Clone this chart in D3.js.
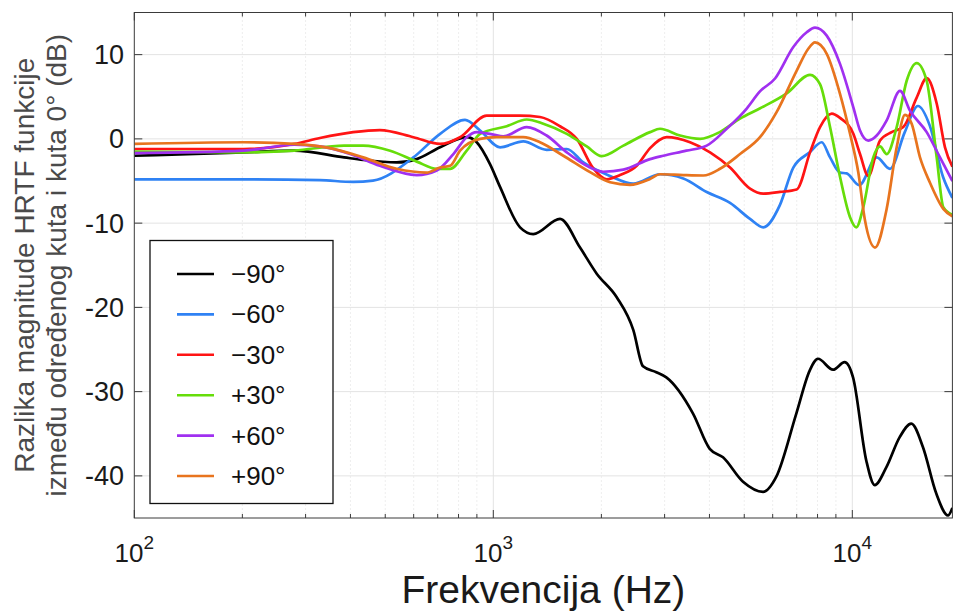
<!DOCTYPE html>
<html><head><meta charset="utf-8">
<script src="https://cdn.jsdelivr.net/npm/d3@7/dist/d3.min.js"></script>
<style>
body{margin:0;background:#fff}
svg{display:block}
text{font-family:"Liberation Sans",Arial,Helvetica,sans-serif}
</style>
</head><body>
<svg id="chart" width="953" height="613"></svg>
<script>
// ---------- data ----------
const xTicks = [100, 1000, 10000];
const xTickExp = ["2", "3", "4"];
const yTicks = [-40, -30, -20, -10, 0, 10];
const seriesNames = ["\u221290\u00b0", "\u221260\u00b0", "\u221230\u00b0", "+30\u00b0", "+60\u00b0", "+90\u00b0"];
const seriesColors = ["#000000", "#2f82f4", "#ff1414", "#66dd0a", "#a030f0", "#e8741e"];

const m90 = [[100,-2.0],[202,-1.6],[279,-1.4],[384,-2.2],[434,-2.5],[538,-2.8],[612,-2.4],[711,-1.0],[843,0.2],[899,-0.4],[979,-3.0],[1044,-5.7],[1187,-10.5],[1292,-11.3],[1534,-9.5],[1744,-12.9],[1941,-16.0],[2207,-18.8],[2455,-22.7],[2612,-27.0],[2845,-27.7],[3033,-28.3],[3600,-32.6],[4007,-36.8],[4363,-37.8],[4961,-40.7],[5640,-41.9],[6142,-40.1],[6982,-32.6],[7608,-27.5],[8024,-26.1],[8836,-27.4],[9523,-26.5],[10046,-28.3],[10939,-38.2],[11544,-41.1],[12434,-39.0],[13550,-35.4],[14596,-33.8],[15733,-36.6],[17135,-42.1],[18471,-44.7],[19000,-43.8]];
const m60 = [[100,-4.8],[202,-4.8],[329,-4.9],[407,-5.1],[462,-4.95],[599,-2.2],[711,0.6],[834,2.25],[919,1.0],[1044,-1.0],[1212,-0.3],[1408,-1.3],[1602,-1.2],[1781,-2.8],[2114,-4.4],[2455,-5.3],[2913,-4.2],[3382,-4.7],[3930,-6.3],[4564,-7.6],[5188,-9.5],[5650,-10.5],[6278,-7.9],[6849,-3.4],[7608,-1.6],[8218,-0.4],[8668,-2.2],[9240,-4.0],[9647,-4.1],[10450,-5.5],[11693,-2.2],[12733,-3.55],[14000,0.8],[15238,3.9],[16425,1.6],[17886,-4.5],[19000,-7.0]];
const m30 = [[100,-1.2],[202,-1.2],[279,-0.6],[329,0.1],[407,0.8],[483,1.05],[599,0.2],[711,-0.6],[808,0.2],[958,2.75],[1187,2.75],[1349,2.6],[1534,1.5],[1708,0.0],[1899,-3.5],[2070,-4.8],[2254,-4.3],[2509,-3.2],[2733,-1.1],[3041,0.2],[3531,-0.4],[4015,-1.6],[4564,-3.4],[5188,-5.9],[5650,-6.5],[6290,-6.3],[7000,-6.0],[7623,-1.6],[8128,1.4],[8762,3.0],[9240,2.5],[10065,0.6],[10505,-1.8],[11080,-4.4],[11943,-0.2],[12871,0.8],[13868,1.4],[15112,4.9],[16111,7.2],[17178,4.2],[18118,-1.0],[19000,-3.3]];
const p30 = [[100,-1.5],[202,-1.6],[279,-1.4],[384,-0.8],[434,-0.8],[516,-1.4],[612,-2.7],[696,-3.55],[758,-3.55],[843,-1.4],[919,0.6],[1090,1.5],[1239,2.3],[1378,1.8],[1602,0.6],[1821,-0.9],[2004,-2.05],[2303,-0.8],[2733,0.8],[2913,1.2],[3312,0.4],[3765,0.0],[4271,0.8],[4867,2.4],[5521,3.6],[6565,5.4],[7623,7.6],[8128,6.5],[8668,1.4],[9240,-4.5],[9854,-9.3],[10259,-10.5],[10730,-8.1],[11440,-2.2],[11943,-0.9],[12466,-1.8],[13292,1.4],[14171,6.9],[15112,9.0],[16111,6.9],[17178,-2.2],[17923,-8.1],[19000,-9.0]];
const p60 = [[100,-1.7],[202,-1.4],[279,-0.7],[329,-0.9],[399,-1.8],[483,-3.2],[612,-4.3],[696,-3.75],[774,-1.8],[843,0.2],[899,0.8],[1000,0.5],[1066,0.3],[1239,1.4],[1408,0.4],[1602,-1.6],[1821,-3.2],[2025,-3.9],[2303,-3.65],[2733,-2.4],[2975,-2.0],[3448,-1.4],[3930,-0.8],[4468,1.2],[5080,3.6],[5521,5.6],[6100,7.2],[6849,10.9],[7464,12.65],[7870,13.2],[8486,12.25],[9240,8.9],[10065,3.75],[10505,1.0],[11080,-0.2],[11693,0.4],[12466,2.2],[13578,5.7],[14475,3.35],[16111,0.8],[17547,-2.2],[19000,-5.0]];
const p90 = [[100,-0.6],[202,-0.4],[279,-0.6],[351,-1.1],[434,-2.2],[538,-3.55],[652,-4.0],[711,-3.4],[758,-3.2],[808,-1.4],[919,0.0],[1022,0.2],[1212,0.2],[1349,-0.4],[1567,-2.0],[1860,-3.95],[2114,-5.15],[2404,-5.45],[2733,-4.75],[2913,-4.2],[3382,-4.3],[3846,-4.35],[4280,-3.55],[4867,-1.8],[5532,0.2],[6158,3.2],[7000,8.1],[7540,10.7],[7870,11.45],[8486,10.1],[9240,5.35],[9854,0.6],[10392,-4.0],[10848,-9.7],[11565,-12.9],[12466,-8.3],[13292,-1.0],[14020,2.85],[14633,1.8],[15434,-2.2],[16455,-5.2],[17923,-8.3],[19000,-9.2]];
const seriesData = [m90, m60, m30, p30, p60, p90];

// ---------- layout ----------
const L = 134.3, R = 952.4, T = 12.5, B = 518;
const svg = d3.select("#chart");
const x = d3.scaleLog().domain([100, 19000]).range([L, R]);
const y = d3.scaleLinear().domain([-45, 15]).range([B, T]);

const minorX = [];
[100, 1000, 10000].forEach(d => { for (let k = 2; k <= 9; k++) { const v = d * k; if (v < 19000) minorX.push(v); } });

// grid
const grid = svg.append("g");
grid.selectAll(".mg").data(minorX).join("line")
  .attr("x1", d => x(d)).attr("x2", d => x(d)).attr("y1", T).attr("y2", B)
  .attr("stroke", "#d4d4d4").attr("stroke-width", 0.8).attr("stroke-dasharray", "1,3");
grid.selectAll(".xg").data(xTicks.slice(1)).join("line")
  .attr("x1", d => x(d)).attr("x2", d => x(d)).attr("y1", T).attr("y2", B)
  .attr("stroke", "#e3e3e3").attr("stroke-width", 1);
grid.selectAll(".yg").data(yTicks).join("line")
  .attr("x1", L).attr("x2", R).attr("y1", d => y(d)).attr("y2", d => y(d))
  .attr("stroke", "#e3e3e3").attr("stroke-width", 1);

// lines
svg.append("clipPath").attr("id", "clip").append("rect")
  .attr("x", L).attr("y", T).attr("width", R - L).attr("height", B - T);
const line = d3.line().x(d => x(d[0])).y(d => y(d[1])).curve(d3.curveMonotoneX);
svg.append("g").attr("clip-path", "url(#clip)")
  .selectAll("path").data(seriesData).join("path")
  .attr("d", line).attr("fill", "none")
  .attr("stroke", (d, i) => seriesColors[i]).attr("stroke-width", 2.7)
  .attr("stroke-linejoin", "round");

// axes frame & ticks
const ax = svg.append("g").attr("stroke", "#3a3a3a").attr("stroke-width", 1);
ax.append("rect").attr("x", L).attr("y", T).attr("width", R - L).attr("height", B - T).attr("fill", "none");
xTicks.forEach(d => {
  ax.append("line").attr("x1", x(d)).attr("x2", x(d)).attr("y1", B).attr("y2", B - 8);
  ax.append("line").attr("x1", x(d)).attr("x2", x(d)).attr("y1", T).attr("y2", T + 8);
});
minorX.forEach(d => {
  ax.append("line").attr("x1", x(d)).attr("x2", x(d)).attr("y1", B).attr("y2", B - 4);
  ax.append("line").attr("x1", x(d)).attr("x2", x(d)).attr("y1", T).attr("y2", T + 4);
});
yTicks.forEach(d => {
  ax.append("line").attr("x1", L).attr("x2", L + 8).attr("y1", y(d)).attr("y2", y(d));
  ax.append("line").attr("x1", R).attr("x2", R - 8).attr("y1", y(d)).attr("y2", y(d));
});

// tick labels
svg.append("g").selectAll("text").data(yTicks).join("text")
  .attr("x", 124).attr("y", d => y(d) + 9.5)
  .attr("text-anchor", "end").attr("font-size", 27).attr("fill", "#1a1a1a")
  .text(d => String(d));
const xl = svg.append("g").selectAll("text").data(xTicks).join("text")
  .attr("x", d => x(d)).attr("y", 562)
  .attr("text-anchor", "middle").attr("font-size", 26).attr("fill", "#1a1a1a");
xl.append("tspan").text("10");
xl.append("tspan").attr("dy", -13).attr("font-size", 19).text((d, i) => xTickExp[i]);

// axis labels
svg.append("text").attr("x", (L + R) / 2).attr("y", 603).attr("text-anchor", "middle")
  .attr("font-size", 39).attr("fill", "#1a1a1a").text("Frekvencija (Hz)");
svg.append("text").attr("transform", `translate(34,${(T + B) / 2}) rotate(-90)`)
  .attr("text-anchor", "middle").attr("font-size", 28).attr("fill", "#4a4a4a")
  .text("Razlika magnitude HRTF funkcije");
svg.append("text").attr("transform", `translate(66,${(T + B) / 2}) rotate(-90)`)
  .attr("text-anchor", "middle").attr("font-size", 28).attr("fill", "#4a4a4a")
  .text("između određenog kuta i kuta 0° (dB)");

// legend
const lg = svg.append("g");
lg.append("rect").attr("x", 150).attr("y", 240.5).attr("width", 183).attr("height", 263)
  .attr("fill", "#fff").attr("stroke", "#111").attr("stroke-width", 1.3);
const items = lg.selectAll("g.it").data(seriesNames).join("g")
  .attr("transform", (d, i) => `translate(0,${274 + i * 40.4})`);
items.append("line").attr("x1", 177).attr("x2", 214).attr("y1", 0).attr("y2", 0)
  .attr("stroke", (d, i) => seriesColors[i]).attr("stroke-width", 2.6);
items.append("text").attr("x", 231).attr("y", 9).attr("font-size", 26).attr("fill", "#111")
  .text(d => d);
</script>
</body></html>
